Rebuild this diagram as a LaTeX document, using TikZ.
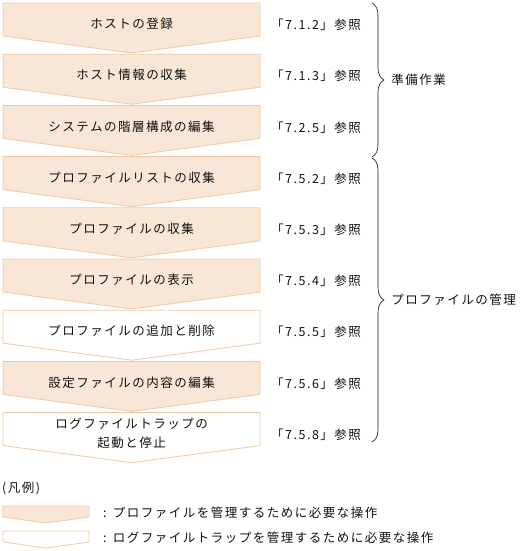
\documentclass[tikz,border=0pt]{standalone}
\usepackage{fontspec}
\setmainfont{Noto Sans CJK JP}[LetterSpace=12]
\usetikzlibrary{decorations.pathreplacing}

\definecolor{opfill}{HTML}{F8E6D6}
\definecolor{opline}{HTML}{EFC9A5}
\definecolor{inktxt}{HTML}{111111}

\tikzset{
  oparrow/.style={draw=opline, line width=0.8pt, line join=miter},
  boxtext/.style={font=\fontsize{12.5}{19}\selectfont, text=inktxt, align=center, inner sep=0pt},
  reftext/.style={boxtext, anchor=west},
  grpbrace/.style={draw=inktxt, line width=0.6pt, decorate, decoration={brace, amplitude=12pt}},
  grplabel/.style={boxtext, anchor=west, xshift=19pt}
}

\begin{document}
\begin{tikzpicture}[x=1pt,y=-1pt]
  \useasboundingbox (0,0) rectangle (523,551);
  % operations, top to bottom
  \foreach \txt/\fc/\secno [count=\i from 0] in {
      ホストの登録/opfill/7.1.2,
      ホスト情報の収集/opfill/7.1.3,
      システムの階層構成の編集/opfill/7.2.5,
      プロファイルリストの収集/opfill/7.5.2,
      プロファイルの収集/opfill/7.5.3,
      プロファイルの表示/opfill/7.5.4,
      プロファイルの追加と削除/white/7.5.5,
      設定ファイルの内容の編集/opfill/7.5.6,
      {ログファイルトラップの\\起動と停止}/white/7.5.8}{
    \pgfmathsetmacro{\ytop}{3+51.2*\i}
    \draw[oparrow, fill=\fc] (3,\ytop) -- ++(257,0) -- ++(0,33) -- ++(-128.5,17) -- ++(-128.5,-17) -- cycle;
    \node[boxtext] (op\i) at (131.5,\ytop+21) {\txt};
    \node[reftext] (ref\i) at (271,\ytop+22) {「\secno」参照};
  }
  % groups
  \coordinate (prepA) at (372,3);
  \coordinate (prepB) at (372,157);
  \coordinate (profA) at (372,158);
  \coordinate (profB) at (372,442);
  \draw[grpbrace] (prepA) -- node[grplabel] (prep) {準備作業} (prepB);
  \draw[grpbrace] (profA) -- node[grplabel] (prof) {プロファイルの管理} (profB);
  % legend
  \node[reftext] (legend) at (2,488) {(凡例)};
  \draw[oparrow, fill=opfill] (3,506) -- ++(86,0) -- ++(0,11) -- ++(-43,6) -- ++(-43,-6) -- cycle;
  \node[reftext] (keyprof) at (103,513) {:\hspace{0.5em}プロファイルを管理するために必要な操作};
  \draw[oparrow, fill=white] (3,531) -- ++(86,0) -- ++(0,11) -- ++(-43,6) -- ++(-43,-6) -- cycle;
  \node[reftext] (keytrap) at (103,538) {:\hspace{0.5em}ログファイルトラップを管理するために必要な操作};
\end{tikzpicture}
\end{document}
